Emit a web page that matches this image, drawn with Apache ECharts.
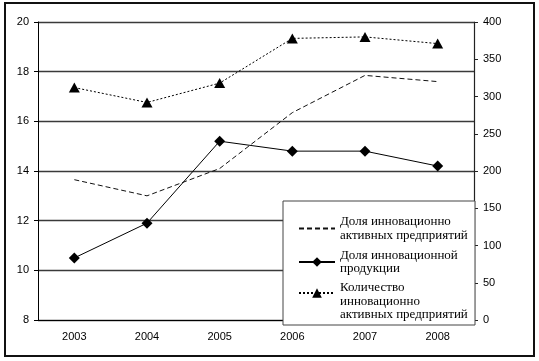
<!DOCTYPE html>
<html>
<head>
<meta charset="utf-8">
<script src="https://cdn.jsdelivr.net/npm/echarts@6/dist/echarts.min.js"></script>
<style>
html,body{margin:0;padding:0;background:#fff;}
#chart{width:539px;height:361px;}
</style>
</head>
<body>
<div id="chart"></div>
<script>
var years = ['2003', '2004', '2005', '2006', '2007', '2008'];
var shareActive = [13.65, 13.0, 14.1, 16.35, 17.85, 17.6];
var shareProducts = [10.5, 11.9, 15.2, 14.8, 14.8, 14.2];
var countActive = [312, 292, 318, 378, 380, 371];
var leftTicks = [8, 20, 2];
var rightTicks = [0, 400, 50];
var names = [
  'Доля инновационно\nактивных предприятий',
  'Доля инновационной\nпродукции',
  'Количество\nинновационно\nактивных предприятий'
];

var chart = echarts.init(document.getElementById('chart'));
var axisFont = {fontFamily: 'Liberation Sans', fontSize: 11, color: '#000'};
var serif = '"Liberation Serif", "Times New Roman", serif';

function legendAt(item, top, spacer) {
  var lg = {
    data: [item], left: 298, top: top, orient: 'vertical', padding: 0,
    itemWidth: 36, itemHeight: 12, itemGap: 0, z: 120, selectedMode: false,
    textStyle: {fontFamily: serif, fontSize: 13, color: '#000', lineHeight: 13.5,
      rich: {s: {fontFamily: serif, fontSize: 2, lineHeight: 17}}}
  };
  if (spacer) lg.formatter = function (n) { return '{s| }\n' + n; };
  return lg;
}

chart.setOption({
  animation: false,
  grid: {left: 38, right: 65, top: 22, bottom: 41},
  graphic: {elements: [
    {type: 'rect', z: 110, shape: {x: 283, y: 201, width: 192, height: 124},
     style: {fill: '#fff', stroke: '#444', lineWidth: 1}},
    {type: 'rect', z: 110, shape: {x: 5, y: 3, width: 529, height: 353},
     style: {fill: 'none', stroke: '#111', lineWidth: 2}}
  ]},
  legend: [
    legendAt({name: names[0], itemStyle: {color: 'rgba(0,0,0,0)', borderWidth: 0}}, 215),
    legendAt(names[1], 248.5),
    legendAt(names[2], 264.25, true)
  ],
  xAxis: {
    type: 'category', data: years, boundaryGap: true,
    axisLine: {lineStyle: {color: '#000', width: 1}},
    axisTick: {length: 4, lineStyle: {color: '#000'}},
    axisLabel: Object.assign({margin: 11}, axisFont),
    splitLine: {show: false}
  },
  yAxis: [
    {type: 'value', min: leftTicks[0], max: leftTicks[1], interval: leftTicks[2], position: 'left',
     axisLine: {show: true, lineStyle: {color: '#000', width: 1}},
     axisTick: {show: true, length: 4, lineStyle: {color: '#000'}},
     axisLabel: Object.assign({margin: 9}, axisFont),
     splitLine: {show: true, lineStyle: {color: '#3a3a3a', width: 1.3}}},
    {type: 'value', min: rightTicks[0], max: rightTicks[1], interval: rightTicks[2], position: 'right',
     axisLine: {show: true, lineStyle: {color: '#222', width: 1.2}},
     axisTick: {show: true, length: 4, lineStyle: {color: '#222'}},
     axisLabel: Object.assign({margin: 9}, axisFont),
     splitLine: {show: false}}
  ],
  series: [
    {name: names[0], type: 'line', yAxisIndex: 0, data: shareActive,
     symbol: 'none', lineStyle: {color: '#111', width: 1, type: [5, 3]}, itemStyle: {color: '#111'}},
    {name: names[1], type: 'line', yAxisIndex: 0, data: shareProducts,
     symbol: 'diamond', symbolSize: 11, lineStyle: {color: '#000', width: 1}, itemStyle: {color: '#000'}},
    {name: names[2], type: 'line', yAxisIndex: 1, data: countActive,
     symbol: 'triangle', symbolSize: [11, 10], lineStyle: {color: '#000', width: 1, type: [2, 2]}, itemStyle: {color: '#000'}}
  ]
});
</script>
</body>
</html>
